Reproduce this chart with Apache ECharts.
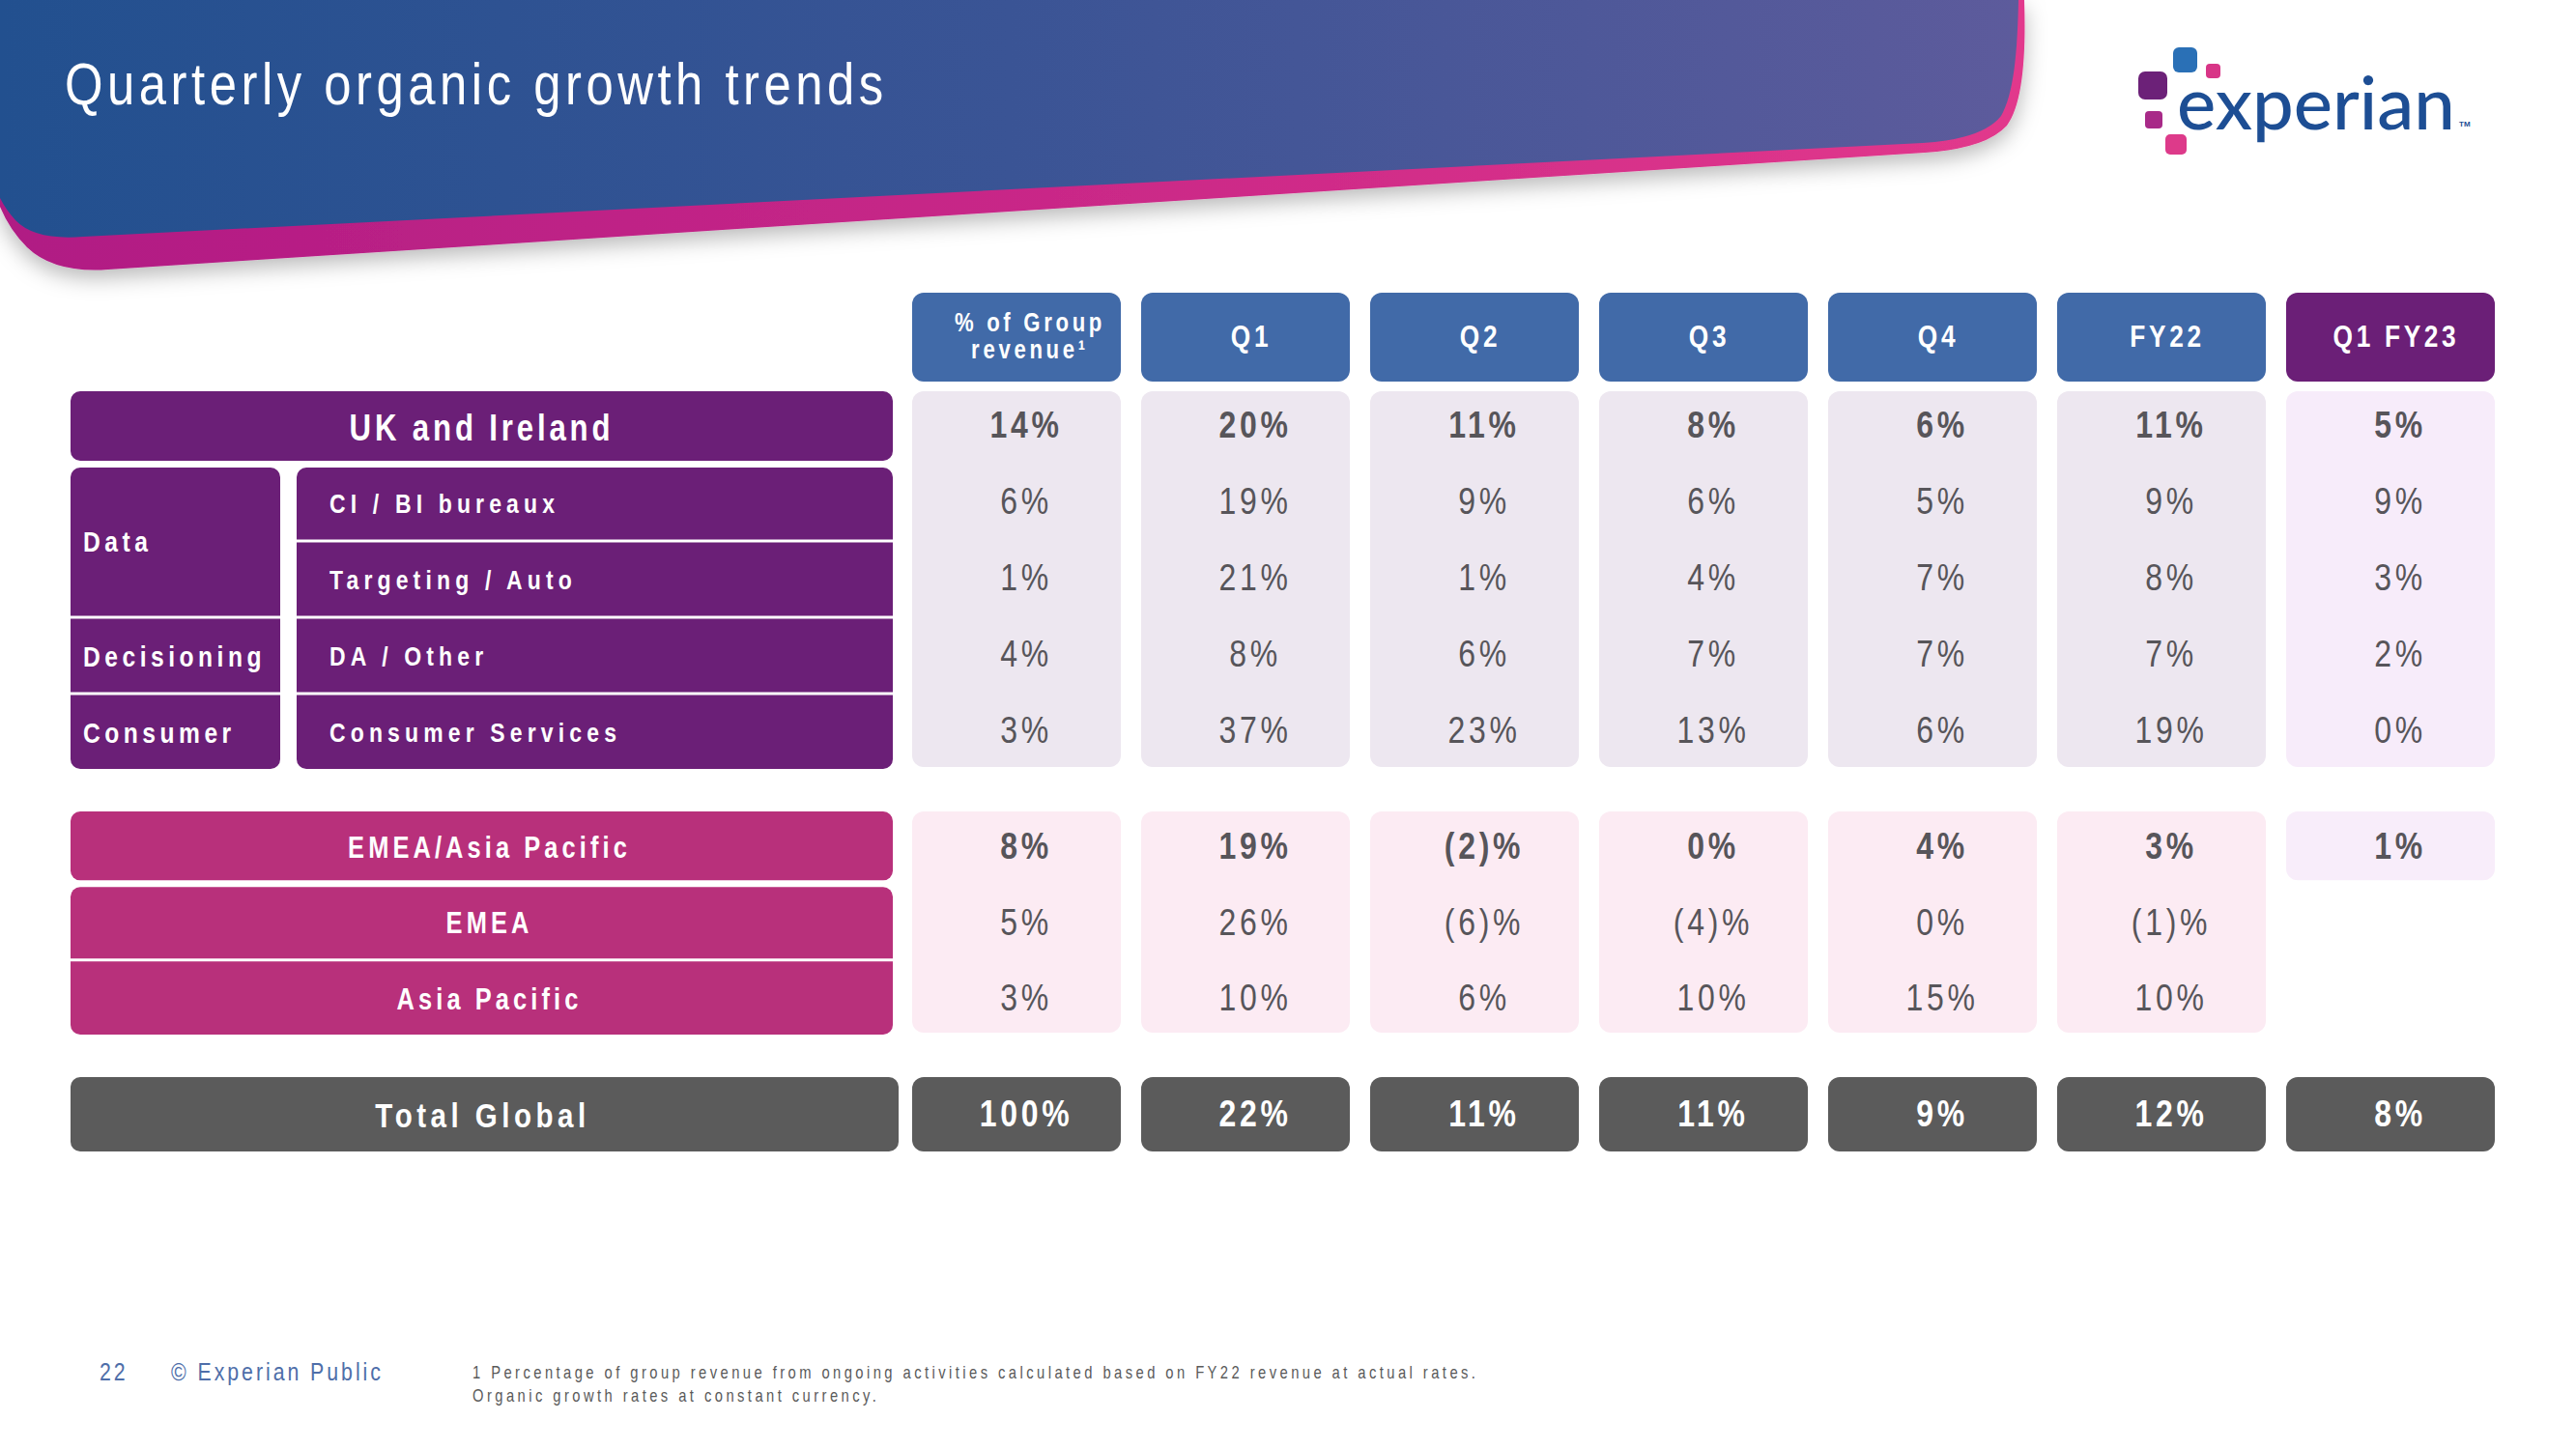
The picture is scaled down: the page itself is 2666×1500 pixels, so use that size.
<!DOCTYPE html>
<html><head><meta charset="utf-8">
<script src="https://cdn.jsdelivr.net/npm/echarts@6/dist/echarts.min.js"></script>
<style>
html,body{margin:0;padding:0;background:#fff;}
#chart{width:2666px;height:1500px;}
#chart text[style*="tgTitle"]{letter-spacing:5.5px}
#chart text[style*="tgHead1"]{letter-spacing:4.5px}
#chart text[style*="tgHead2"]{letter-spacing:4.5px}
#chart text[style*="tgVal"]{letter-spacing:4.5px}
#chart text[style*="tgSec"]{letter-spacing:4.7px}
#chart text[style*="tgEm"]{letter-spacing:5px}
#chart text[style*="tgSub"]{letter-spacing:6.3px}
#chart text[style*="tgGrp"]{letter-spacing:5.5px}
#chart text[style*="tgTot"]{letter-spacing:5.5px}
#chart text[style*="tgFoot"]{letter-spacing:3.6px}
#chart text[style*="tgNote"]{letter-spacing:4.2px}
</style></head>
<body><div id="chart"></div>
<script>
// ---------------- data ----------------
const columns = ['% of Group\nrevenue¹', 'Q1', 'Q2', 'Q3', 'Q4', 'FY22', 'Q1 FY23'];
const ukRowLabels = ['UK and Ireland', 'CI / BI bureaux', 'Targeting / Auto', 'DA / Other', 'Consumer Services'];
const ukGroupLabels = ['Data', 'Decisioning', 'Consumer'];
const ukGroupRowSpans = [2, 1, 1];
const emeaRowLabels = ['EMEA/Asia Pacific', 'EMEA', 'Asia Pacific'];
const totalRowLabels = ['Total Global'];

const ukIreland        = [14, 20, 11, 8, 6, 11, 5];
const ciBiBureaux      = [6, 19, 9, 6, 5, 9, 9];
const targetingAuto    = [1, 21, 1, 4, 7, 8, 3];
const daOther          = [4, 8, 6, 7, 7, 7, 2];
const consumerServices = [3, 37, 23, 13, 6, 19, 0];
const emeaAsiaPacific  = [8, 19, -2, 0, 4, 3, 1];
const emea             = [5, 26, -6, -4, 0, -1, null];
const asiaPacific      = [3, 10, 6, 10, 15, 10, null];
const totalGlobal      = [100, 22, 11, 11, 9, 12, 8];

const titleText = 'Quarterly organic growth trends';
const pageNumber = '22';
const classification = '© Experian Public';
const footnote = '1 Percentage of group revenue from ongoing activities calculated based on FY22 revenue at actual rates.\nOrganic growth rates at constant currency.';

// ---------------- style ----------------
const NARROW = "'Liberation Sans Narrow','Arial Narrow','Liberation Sans',Arial,sans-serif";
const F = tag => NARROW + ',' + tag;
const SX = 0.82; // horizontal condensing, mimics a narrow typeface
const BLUE = '#416aa8', PURPLE = '#6b1f77', MAGENTA = '#b8307b', GREY = '#5b5b5b';
const VALUE_COLOR = '#57555a';
const PADX = 10.5;
const LBL = { x0: 73, x1: 924, x1Total: 930, grpX1: 290, subX0: 307, grpTextX: 86, subTextX: 341 };
const GRID_X = { left: 933.5, width: 1659 };

function fmt(v) { return v == null ? '' : (v < 0 ? '(' + (-v) + ')%' : v + '%'); }
function lin(stops) { return { type: 'linear', x: 0, y: 0, x2: 1, y2: 0, colorStops: stops, global: false }; }
function nText(style, z) {
  const el = { type: 'text', scaleX: SX, scaleY: 1, originX: style.x, originY: style.y, style: style };
  if (z != null) el.z = z;
  return el;
}

const sections = [
  { grid: 1, rows: ukRowLabels, values: [ukIreland, ciBiBureaux, targetingAuto, daOther, consumerServices],
    fullRows: [0], boldRows: [0], boxColor: PURPLE, cellFill: '#ede7f0', lastFill: '#f7ecfa', valueColor: VALUE_COLOR,
    labelFont: [38, 28], labelTag: ['tgSec', 'tgSub'], cellIns: [3, 3], valueDy: -2, labelDx: 0 },
  { grid: 2, rows: emeaRowLabels, values: [emeaAsiaPacific, emea, asiaPacific],
    fullRows: [0, 1, 2], boldRows: [0], boxColor: MAGENTA, cellFill: '#fcebf3', lastFill: '#f8edfa', valueColor: VALUE_COLOR,
    labelFont: [31, 31], labelTag: ['tgEm', 'tgEm'], cellIns: [3, 3], valueDy: 0, labelDx: 8 },
  { grid: 3, rows: totalRowLabels, values: [totalGlobal],
    fullRows: [0], boldRows: [0], boxColor: GREY, cellFill: GREY, lastFill: GREY, valueColor: '#ffffff',
    labelFont: [36, 36], labelTag: ['tgTot', 'tgTot'], cellIns: [1, 1], valueDy: -1, labelDx: -2, total: true }
];

const grids = [
  { top: 303, height: 92 },
  { top: 402, height: 395 },
  { top: 837, height: 235 },
  { top: 1114, height: 79 }
].map(g => Object.assign({}, GRID_X, g));

const xAxes = grids.map((g, i) => ({ type: 'category', gridIndex: i, data: columns, show: false }));
const yAxes = [['header'], ukRowLabels, emeaRowLabels, totalRowLabels].map((d, i) => ({
  type: 'category', gridIndex: i, data: d, inverse: true, show: false
}));

function rowBox(api, r0, r1, insT, insB) {
  const a = api.coord([0, r0]), b = api.coord([0, r1]);
  const bh = api.size([0, 1])[1];
  return { y: a[1] - bh / 2 + insT, h: b[1] - a[1] + bh - insT - insB, cy: (a[1] + b[1]) / 2 };
}

const series = [];

// column header row
series.push({
  type: 'custom', coordinateSystem: 'cartesian2d', xAxisIndex: 0, yAxisIndex: 0, silent: true, z: 2,
  encode: { x: 0, y: 1 }, data: columns.map((c, i) => [i, 0]),
  renderItem(params, api) {
    const c = api.value(0);
    const p = api.coord([c, 0]);
    const s = api.size([1, 1]);
    const first = c === 0;
    return { type: 'group', children: [
      { type: 'rect', shape: { x: p[0] - s[0] / 2 + PADX, y: p[1] - s[1] / 2, width: s[0] - 2 * PADX, height: s[1], r: 12 },
        style: { fill: c === columns.length - 1 ? PURPLE : BLUE } },
      nText({ text: columns[c], x: p[0] + (first ? 14 : 6), y: p[1] - 1, align: 'center', verticalAlign: 'middle',
        fill: '#fff', fontWeight: 'bold', fontSize: first ? 27 : 32, lineHeight: 28, fontFamily: F(first ? 'tgHead2' : 'tgHead1') })
    ] };
  }
});

sections.forEach(sec => {
  const gi = sec.grid;
  const n = sec.rows.length;
  // one background per column, spanning the rows that hold a value
  const bg = [];
  columns.forEach((c, ci) => {
    const rows = sec.values.map((arr, r) => arr[ci] != null ? r : -1).filter(r => r >= 0);
    if (rows.length) bg.push([ci, rows[0], rows[rows.length - 1]]);
  });
  series.push({
    type: 'custom', coordinateSystem: 'cartesian2d', xAxisIndex: gi, yAxisIndex: gi, silent: true, z: 2,
    encode: { x: 0, y: 1 }, data: bg,
    renderItem(params, api) {
      const c = api.value(0), r0 = api.value(1), r1 = api.value(2);
      const a = api.coord([c, r0]), b = api.coord([c, r1]);
      const s = api.size([1, 1]);
      const single = r0 === r1 && n > 1;
      const insT = sec.cellIns[0], insB = single ? 4 : sec.cellIns[1];
      return { type: 'rect', shape: { x: a[0] - s[0] / 2 + PADX, y: a[1] - s[1] / 2 + insT, width: s[0] - 2 * PADX,
        height: b[1] - a[1] + s[1] - insT - insB, r: 12 },
        style: { fill: c === columns.length - 1 ? sec.lastFill : sec.cellFill } };
    }
  });
  // values
  const vals = [];
  sec.values.forEach((arr, r) => arr.forEach((v, c) => { if (v != null) vals.push([c, r, v]); }));
  series.push({
    type: 'custom', coordinateSystem: 'cartesian2d', xAxisIndex: gi, yAxisIndex: gi, silent: true, z: 5,
    encode: { x: 0, y: 1 }, data: vals,
    renderItem(params, api) {
      const c = api.value(0), r = api.value(1), v = api.value(2);
      const p = api.coord([c, r]);
      const bold = sec.total || sec.boldRows.indexOf(r) >= 0;
      return nText({ text: fmt(v), x: p[0] + 10, y: p[1] + sec.valueDy, align: 'center', verticalAlign: 'middle',
        fill: sec.valueColor, fontSize: 39, fontWeight: bold ? 'bold' : 'normal', fontFamily: F('tgVal') });
    }
  });
  // row label boxes
  series.push({
    type: 'custom', coordinateSystem: 'cartesian2d', xAxisIndex: gi, yAxisIndex: gi, silent: true, z: 4,
    encode: { x: 0, y: 1 }, data: sec.rows.map((l, r) => [0, r]),
    renderItem(params, api) {
      const r = api.value(1);
      const full = sec.fullRows.indexOf(r) >= 0;
      const isHead = r === 0;
      const firstInBlock = r === 1, last = r === n - 1;
      let insT, insB, rad;
      if (isHead) { insT = sec.total ? 1 : 3; insB = sec.total ? 1 : 4; rad = [10, 10, 10, 10]; }
      else {
        insT = firstInBlock ? 3 : 1.5; insB = last ? 1 : 1.5;
        rad = [firstInBlock ? 10 : 0, firstInBlock ? 10 : 0, last ? 10 : 0, last ? 10 : 0];
      }
      const b = rowBox(api, r, r, insT, insB);
      const x0 = full ? LBL.x0 : LBL.subX0;
      const x1 = sec.total ? LBL.x1Total : LBL.x1;
      const fs = isHead ? sec.labelFont[0] : sec.labelFont[1];
      const tag = isHead ? sec.labelTag[0] : sec.labelTag[1];
      return { type: 'group', children: [
        { type: 'rect', shape: { x: x0, y: b.y, width: x1 - x0, height: b.h, r: rad }, style: { fill: sec.boxColor } },
        nText({ text: sec.rows[r], x: full ? (x0 + x1) / 2 + sec.labelDx : LBL.subTextX, y: b.cy + 1,
          align: full ? 'center' : 'left', verticalAlign: 'middle', fill: '#fff', fontWeight: 'bold', fontSize: fs, fontFamily: F(tag) })
      ] };
    }
  });
});

// UK group labels (Data / Decisioning / Consumer)
(function () {
  const data = [];
  let r = 1;
  ukGroupLabels.forEach((g, i) => { data.push([0, r, r + ukGroupRowSpans[i] - 1]); r += ukGroupRowSpans[i]; });
  const nRows = ukRowLabels.length;
  series.push({
    type: 'custom', coordinateSystem: 'cartesian2d', xAxisIndex: 1, yAxisIndex: 1, silent: true, z: 4,
    encode: { x: 0, y: 1 }, data,
    renderItem(params, api) {
      const i = params.dataIndex;
      const r0 = api.value(1), r1 = api.value(2);
      const first = r0 === 1, last = r1 === nRows - 1;
      const b = rowBox(api, r0, r1, first ? 3 : 1.5, last ? 1 : 1.5);
      return { type: 'group', children: [
        { type: 'rect', shape: { x: LBL.x0, y: b.y, width: LBL.grpX1 - LBL.x0, height: b.h,
          r: [first ? 10 : 0, first ? 10 : 0, last ? 10 : 0, last ? 10 : 0] }, style: { fill: PURPLE } },
        nText({ text: ukGroupLabels[i], x: LBL.grpTextX, y: b.cy + 1, align: 'left', verticalAlign: 'middle',
          fill: '#fff', fontWeight: 'bold', fontSize: 30, fontFamily: F('tgGrp') })
      ] };
    }
  });
})();

// ---------------- decorations ----------------
const blueGrad = lin([{ offset: 0, color: '#22508f' }, { offset: 0.5, color: '#3a5495' }, { offset: 1, color: '#5d5b9c' }]);
const magGrad = lin([{ offset: 0, color: '#b01b84' }, { offset: 0.6, color: '#cd2a88' }, { offset: 1, color: '#e2388c' }]);

echarts.graphic.registerShape('bannerBack', echarts.graphic.extendPath(
  'M0 0 L2095 0 C2097 60 2093 108 2077 130 Q2055 154 1992 158 L112 279 Q56 283 28 256 Q10 238 0 214 Z', {}));
echarts.graphic.registerShape('bannerFront', echarts.graphic.extendPath(
  'M0 0 L2089 0 C2088 55 2084 98 2071 120 Q2052 144 1990 148 L86 245 Q36 249 16 228 Q6 217 0 205 Z', {}));

const graphic = [
  { type: 'bannerBack', z: 1, shape: {}, style: { fill: magGrad, shadowBlur: 22, shadowColor: 'rgba(0,0,0,0.28)', shadowOffsetY: 8 } },
  { type: 'bannerFront', z: 2, shape: {}, style: { fill: blueGrad } },
  nText({ text: titleText, x: 67, y: 87, verticalAlign: 'middle', align: 'left',
    fill: '#ffffff', fontSize: 62, fontWeight: 'normal', fontFamily: F('tgTitle') }, 5),
  { type: 'rect', z: 3, shape: { x: 2249, y: 49, width: 25, height: 26, r: 6 }, style: { fill: '#2a70b6' } },
  { type: 'rect', z: 3, shape: { x: 2283, y: 66, width: 15, height: 15, r: 4 }, style: { fill: '#d83587' } },
  { type: 'rect', z: 3, shape: { x: 2213, y: 74, width: 30, height: 29, r: 7 }, style: { fill: '#6c2178' } },
  { type: 'rect', z: 3, shape: { x: 2220, y: 115, width: 18, height: 18, r: 4 }, style: { fill: '#a82a88' } },
  { type: 'rect', z: 3, shape: { x: 2241, y: 139, width: 22, height: 21, r: 5 }, style: { fill: '#dd3a8a' } },
  { type: 'text', z: 3, style: { text: 'experian', x: 2253, y: 104, verticalAlign: 'middle', align: 'left',
    fill: '#1d4e94', fontSize: 76, fontWeight: 500, fontFamily: 'Lato, sans-serif' } },
  { type: 'text', z: 3, style: { text: 'TM', x: 2545, y: 128, verticalAlign: 'middle', align: 'left',
    fill: '#1d4e94', fontSize: 8, fontWeight: 'bold', fontFamily: 'Liberation Sans, sans-serif' } },
  nText({ text: pageNumber, x: 103, y: 1420, verticalAlign: 'middle', align: 'left',
    fill: '#4e6ea9', fontSize: 26, fontFamily: F('tgFoot') }, 3),
  nText({ text: classification, x: 177, y: 1420, verticalAlign: 'middle', align: 'left',
    fill: '#4e6ea9', fontSize: 26, fontFamily: F('tgFoot') }, 3),
  nText({ text: footnote, x: 489, y: 1408, verticalAlign: 'top', align: 'left', lineHeight: 24,
    fill: '#5a5a5a', fontSize: 18, fontFamily: F('tgNote') }, 3)
];

const chart = echarts.init(document.getElementById('chart'), null, { renderer: 'svg' });
chart.setOption({
  animation: false,
  backgroundColor: '#ffffff',
  grid: grids,
  xAxis: xAxes,
  yAxis: yAxes,
  series,
  graphic
});
</script>
</body></html>
